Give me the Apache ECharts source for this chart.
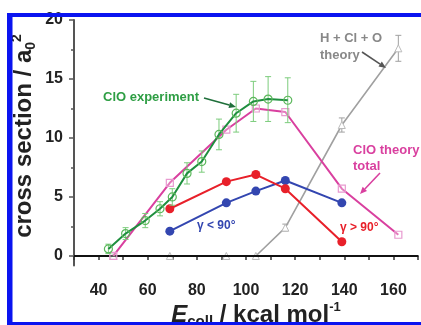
<!DOCTYPE html>
<html><head><meta charset="utf-8">
<script src="https://cdn.jsdelivr.net/npm/echarts@6/dist/echarts.min.js"></script>
<style>html,body{margin:0;padding:0;background:#fff}#c{width:421px;height:325px}</style>
</head><body><div id="c"></div>
<script>
// ClO experiment (open circles with error bars)
const expX = [44, 51, 59, 65, 70, 76, 82, 89, 96, 103, 109, 117];
const expY = [0.6, 1.9, 3.0, 4.0, 5.0, 7.0, 8.0, 10.3, 12.1, 13.1, 13.3, 13.2];
const expErr = [0.4, 0.5, 0.6, 0.6, 0.7, 0.9, 0.9, 1.3, 1.6, 1.7, 1.9, 1.9];
// theory energies
const theoryX = [46, 69, 92, 104, 116, 139, 162];
const totalY = [0, 6.2, 10.7, 12.5, 12.2, 5.7, 1.8];
const hcloY = [0, 0, 0, 0, 2.4, 11.1, 17.6];
const hcloErr = [0, 0, 0, 0, 0.3, 0.6, 1.1];
const gammaX = [69, 92, 104, 116, 139];
const gtY = [4.0, 6.3, 6.9, 5.7, 1.2];   // gamma > 90
const glY = [2.1, 4.5, 5.5, 6.4, 4.5];   // gamma < 90
const yMajor = [0, 5, 10, 15, 20];
const yMinor = [2.5, 7.5, 12.5, 17.5];
const xLabels = [40, 60, 80, 100, 120, 140, 160];

const FF = '"Liberation Sans", Arial, sans-serif';
const zip = (xs, ys, es) => xs.map((x, i) => es ? [x, ys[i], es[i]] : [x, ys[i]]);

function errItem(color) {
  return function (params, api) {
    const x = api.value(0), y = api.value(1), e = api.value(2);
    if (!e) return null;
    const t = api.coord([x, y + e]), b = api.coord([x, y - e]);
    const w = 3;
    const st = { stroke: color, lineWidth: 1 };
    return { type: 'group', children: [
      { type: 'line', shape: { x1: t[0], y1: t[1], x2: b[0], y2: b[1] }, style: st },
      { type: 'line', shape: { x1: t[0] - w, y1: t[1], x2: t[0] + w, y2: t[1] }, style: st },
      { type: 'line', shape: { x1: b[0] - w, y1: b[1], x2: b[0] + w, y2: b[1] }, style: st }
    ]};
  };
}

function arrow(x1, y1, x2, y2, color) {
  const a = Math.atan2(y2 - y1, x2 - x1), L = 7, W = 3;
  const bx = x2 - L * Math.cos(a), by = y2 - L * Math.sin(a);
  const px = -Math.sin(a) * W, py = Math.cos(a) * W;
  return [
    { type: 'line', shape: { x1, y1, x2: bx, y2: by }, style: { stroke: color, lineWidth: 1.6 }, z: 50 },
    { type: 'polygon', shape: { points: [[x2, y2], [bx + px, by + py], [bx - px, by - py]] }, style: { fill: color }, z: 50 }
  ];
}

const chart = echarts.init(document.getElementById('c'), null, { renderer: 'canvas' });
const green = '#1f8f3f', greenL = '#7ccc7c', pink = '#d9409f', red = '#e8202a', blue = '#3346b0', gray = '#a0a0a0';

chart.setOption({
  animation: false,
  backgroundColor: '#fff',
  grid: { left: 74, right: 0, top: 20, bottom: 59.6 },
  xAxis: [
    { type: 'value', min: 30, max: 170, interval: 10, position: 'bottom',
      axisLine: { lineStyle: { color: '#333', width: 2 } },
      axisTick: { show: true, length: 4, lineStyle: { color: '#333', width: 1.5 } },
      axisLabel: { margin: 17, fontSize: 16, fontWeight: 'bold', color: '#222', fontFamily: FF,
        formatter: v => xLabels.indexOf(v) >= 0 ? String(v) : '' },
      splitLine: { show: false } },
    { type: 'value', min: 30, max: 170, position: 'top',
      axisLine: { show: true, lineStyle: { color: '#888', width: 2 } },
      axisTick: { show: false }, axisLabel: { show: false }, splitLine: { show: false } }
  ],
  yAxis: [
    { type: 'value', min: -0.8, max: 20, position: 'left',
      axisLine: { show: true, lineStyle: { color: '#555', width: 2 } },
      axisTick: { show: true, length: 5, customValues: yMajor, lineStyle: { color: '#555', width: 1.5 } },
      axisLabel: { customValues: yMajor, margin: 11, fontSize: 16, fontWeight: 'bold', color: '#222', fontFamily: FF },
      splitLine: { show: false } },
    { type: 'value', min: -0.8, max: 20, position: 'left',
      axisLine: { show: false },
      axisTick: { show: true, length: 3, customValues: yMinor, lineStyle: { color: '#555', width: 1.5 } },
      axisLabel: { show: false }, splitLine: { show: false } }
  ],
  series: [
    { type: 'line', data: [], z: 1, silent: true,
      markLine: { symbol: 'none', silent: true, label: { show: false },
        lineStyle: { color: '#111', width: 2, type: 'solid' }, data: [{ yAxis: 0 }] } },
    { type: 'custom', name: 'hcloErr', data: zip(theoryX, hcloY, hcloErr), renderItem: errItem(gray), z: 3 },
    { type: 'line', name: 'H + Cl + O theory', data: zip(theoryX, hcloY), z: 3,
      lineStyle: { color: gray, width: 1.6 }, itemStyle: { color: '#fff', borderColor: '#bbb', borderWidth: 1 },
      symbol: 'triangle', symbolSize: 7, showSymbol: true },
    { type: 'line', name: 'gamma < 90', data: zip(gammaX, glY), z: 4,
      lineStyle: { color: blue, width: 2 }, itemStyle: { color: blue }, symbol: 'circle', symbolSize: 9 },
    { type: 'line', name: 'gamma > 90', data: zip(gammaX, gtY), z: 4,
      lineStyle: { color: red, width: 2 }, itemStyle: { color: red }, symbol: 'circle', symbolSize: 9 },
    { type: 'line', name: 'ClO theory total', data: zip(theoryX, totalY), z: 5,
      lineStyle: { color: pink, width: 2 }, itemStyle: { color: 'rgba(255,255,255,0.3)', borderColor: '#e89ad0', borderWidth: 1.2 },
      symbol: 'rect', symbolSize: 7 },
    { type: 'custom', name: 'expErr', data: zip(expX, expY, expErr), renderItem: errItem(greenL), z: 6 },
    { type: 'line', name: 'ClO experiment', data: zip(expX, expY), z: 7,
      lineStyle: { color: green, width: 2 }, itemStyle: { color: 'rgba(255,255,255,0)', borderColor: '#5cb85c', borderWidth: 1.2 },
      symbol: 'circle', symbolSize: 8 }
  ],
  graphic: [
    // frame
    { type: 'rect', shape: { x: 7, y: 13, width: 414, height: 4 }, style: { fill: '#0a14f0' }, z: 100 },
    { type: 'rect', shape: { x: 7, y: 13, width: 5.5, height: 312 }, style: { fill: '#0a14f0' }, z: 100 },
    { type: 'rect', shape: { x: 7, y: 322, width: 414, height: 3 }, style: { fill: '#0a14f0' }, z: 100 },
    // axis titles
    { type: 'text', x: 24, y: 136, rotation: Math.PI / 2, z: 60,
      style: { text: '{m|cross section / a}{s|0}{p|2}', align: 'center', verticalAlign: 'middle', fill: '#222',
        rich: { m: { fontSize: 24, fontWeight: 'bold', fontFamily: FF, fill: '#222', lineHeight: 28 },
                s: { fontSize: 14, fontWeight: 'bold', fontFamily: FF, fill: '#222', verticalAlign: 'bottom', lineHeight: 28 },
                p: { fontSize: 14, fontWeight: 'bold', fontFamily: FF, fill: '#222', verticalAlign: 'top', lineHeight: 28 } } } },
    { type: 'text', x: 256, y: 315, z: 60,
      style: { text: '{e|E}{s|coll}{m| / kcal mol}{p|-1}', align: 'center', verticalAlign: 'middle', fill: '#222',
        rich: { e: { fontSize: 24, fontWeight: 'bold', fontStyle: 'italic', fontFamily: FF, fill: '#222', lineHeight: 28 },
                s: { fontSize: 15, fontWeight: 'bold', fontFamily: FF, fill: '#222', verticalAlign: 'bottom', lineHeight: 28 },
                m: { fontSize: 24, fontWeight: 'bold', fontFamily: FF, fill: '#222', lineHeight: 28 },
                p: { fontSize: 13, fontWeight: 'bold', fontFamily: FF, fill: '#222', verticalAlign: 'top', lineHeight: 28 } } } },
    // annotations
    { type: 'text', x: 103, y: 97, z: 60, style: { text: 'ClO experiment', fontSize: 13, fontWeight: 'bold', fontFamily: FF, fill: '#2e9e44', verticalAlign: 'middle' } },
    ...arrow(204, 98, 236, 107, '#1f6f3a'),
    { type: 'text', x: 320, y: 38, z: 60, style: { text: 'H + Cl + O', fontSize: 13, fontWeight: 'bold', fontFamily: FF, fill: '#888', verticalAlign: 'middle' } },
    { type: 'text', x: 320, y: 55, z: 60, style: { text: 'theory', fontSize: 13, fontWeight: 'bold', fontFamily: FF, fill: '#888', verticalAlign: 'middle' } },
    ...arrow(362, 52, 386, 68, '#555'),
    { type: 'text', x: 353, y: 150, z: 60, style: { text: 'ClO theory', fontSize: 13, fontWeight: 'bold', fontFamily: FF, fill: '#d9409f', verticalAlign: 'middle' } },
    { type: 'text', x: 353, y: 166, z: 60, style: { text: 'total', fontSize: 13, fontWeight: 'bold', fontFamily: FF, fill: '#d9409f', verticalAlign: 'middle' } },
    ...arrow(380, 173, 360, 194, '#d9409f'),
    { type: 'text', x: 197, y: 226, z: 60, style: { text: 'γ < 90°', fontSize: 12, fontWeight: 'bold', fontFamily: FF, fill: blue, verticalAlign: 'middle' } },
    { type: 'text', x: 340, y: 228, z: 60, style: { text: 'γ > 90°', fontSize: 12, fontWeight: 'bold', fontFamily: FF, fill: red, verticalAlign: 'middle' } }
  ]
});
</script>
</body></html>
